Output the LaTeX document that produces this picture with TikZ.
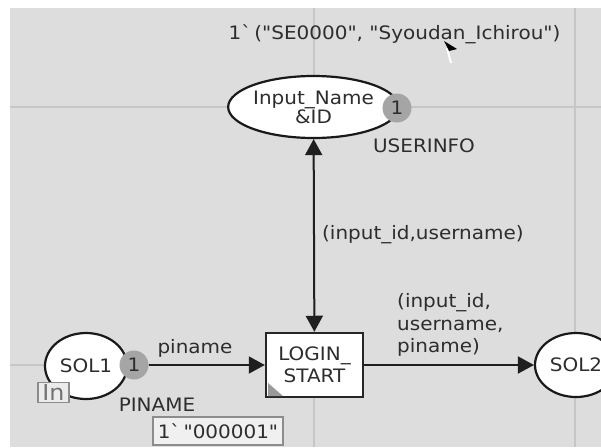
\documentclass[tikz,border=0pt]{standalone}
\usepackage{fontspec}
\setmainfont[FakeStretch=1.08, Ligatures=TeXOff]{DejaVu Sans}
\usetikzlibrary{shapes.geometric,arrows.meta}
\definecolor{bggray}{RGB}{221,221,221}
\definecolor{gridgray}{RGB}{198,198,198}
\definecolor{txtgray}{RGB}{45,45,45}
\definecolor{tokgray}{RGB}{165,165,165}
\tikzset{
  txt/.style={text=txtgray, font=\fontsize{18.5}{22.5}\selectfont, inner sep=0pt},
  place/.style={ellipse, draw=black!90, line width=2.2pt, fill=white, inner sep=0pt, text=txtgray, font=\fontsize{18.5}{22}\selectfont, align=center},
  token/.style={circle, fill=tokgray, minimum size=29pt, inner sep=0pt, text=txtgray, font=\fontsize{18.5}{22}\selectfont},
  trans/.style={rectangle, draw=black!85, line width=2.5pt, fill=white, minimum width=97pt, minimum height=64pt, inner sep=0pt, align=center, text=txtgray, font=\fontsize{18.5}{22.5}\selectfont},
  arc/.style={draw=black!88, line width=2pt, {Triangle[length=16pt,width=17pt]}-{Triangle[length=16pt,width=17pt]}},
  arcto/.style={draw=black!88, line width=2pt, -{Triangle[length=16pt,width=17pt]}},
  gridline/.style={draw=gridgray, line width=1.3pt},
  tagbox/.style={rectangle, draw=black!45, line width=1.3pt, fill=black!8, inner sep=0pt},
}
\begin{document}
\begin{tikzpicture}[x=1pt,y=-1pt]
\useasboundingbox (0,0) rectangle (601,447);
\clip (0,0) rectangle (601,447);
\fill[white] (0,0) rectangle (601,447);
\fill[bggray] (10,8) rectangle (601,447);
% grid
\coordinate (gl1) at (10,107); \coordinate (gr1) at (601,107);
\coordinate (gl2) at (10,365); \coordinate (gr2) at (601,365);
\coordinate (gt1) at (314,8); \coordinate (gb1) at (314,447);
\coordinate (gt2) at (575,8); \coordinate (gb2) at (575,447);
\draw[gridline] (gl1) -- (gr1);
\draw[gridline] (gl2) -- (gr2);
\draw[gridline] (gt1) -- (gb1);
\draw[gridline] (gt2) -- (gb2);

% top marking
\node[txt] (topmark) at (394.5,34) {1\symbol{96}\,("SE0000", "Syoudan\_Ichirou")};

% places
\node[place, minimum width=147pt, minimum height=62pt] (ind) at (313.5,107) {Input\_Name\\[-3pt]\&ID};
\node[token] (tokind) at (397,108) {1};
\node[txt] (userinfo) at (424,146) {USERINFO};

\node[place, minimum width=82pt, minimum height=66pt] (sol1) at (86,366) {SOL1};
\node[token] (tok1) at (134,365) {1};
\node[tagbox, minimum width=31pt, minimum height=20pt, text=black!55, font=\fontsize{22}{22}\selectfont] (intag) at (53.5,392.5) {In};
\node[txt] (piname) at (157,405) {PINAME};
\node[tagbox, minimum width=130pt, minimum height=28pt, text=txtgray, font=\fontsize{18.5}{22}\selectfont, fill=black!6] (init1) at (218,431) {1\symbol{96}\,"000001"};

\node[trans] (login) at (314.5,365) {LOGIN\_\\START};
\coordinate (c1) at (268,383); \coordinate (c2) at (268,396); \coordinate (c3) at (283,396);
\fill[black!40] (c1) -- (c2) -- (c3) -- cycle;

\node[place, minimum width=82pt, minimum height=64pt] (sol2) at (576,365) {SOL2};

% arcs
\draw[arc] (ind) -- (login);
\draw[arcto] (tok1) -- (login);
\draw[arcto] (login) -- (sol2);

% arc labels
\node[txt, anchor=west] (lbl1) at (322,235) {(input\_id,username)};
\node[txt] (lbl2) at (195,348) {piname};
\node[txt, anchor=west, align=left, font=\fontsize{18.5}{22.5}\selectfont] (lbl3) at (397,325) {(input\_id,\\username,\\piname)};

% mouse cursor
\coordinate (m1) at (444,41); \coordinate (m2) at (457,49); \coordinate (m3) at (449,51);
\coordinate (m4) at (447,48); \coordinate (m5) at (451,63);
\draw[white, line width=2pt] (m4) -- (m5);
\fill[black] (m1) -- (m2) -- (m3) -- cycle;
\end{tikzpicture}
\end{document}
